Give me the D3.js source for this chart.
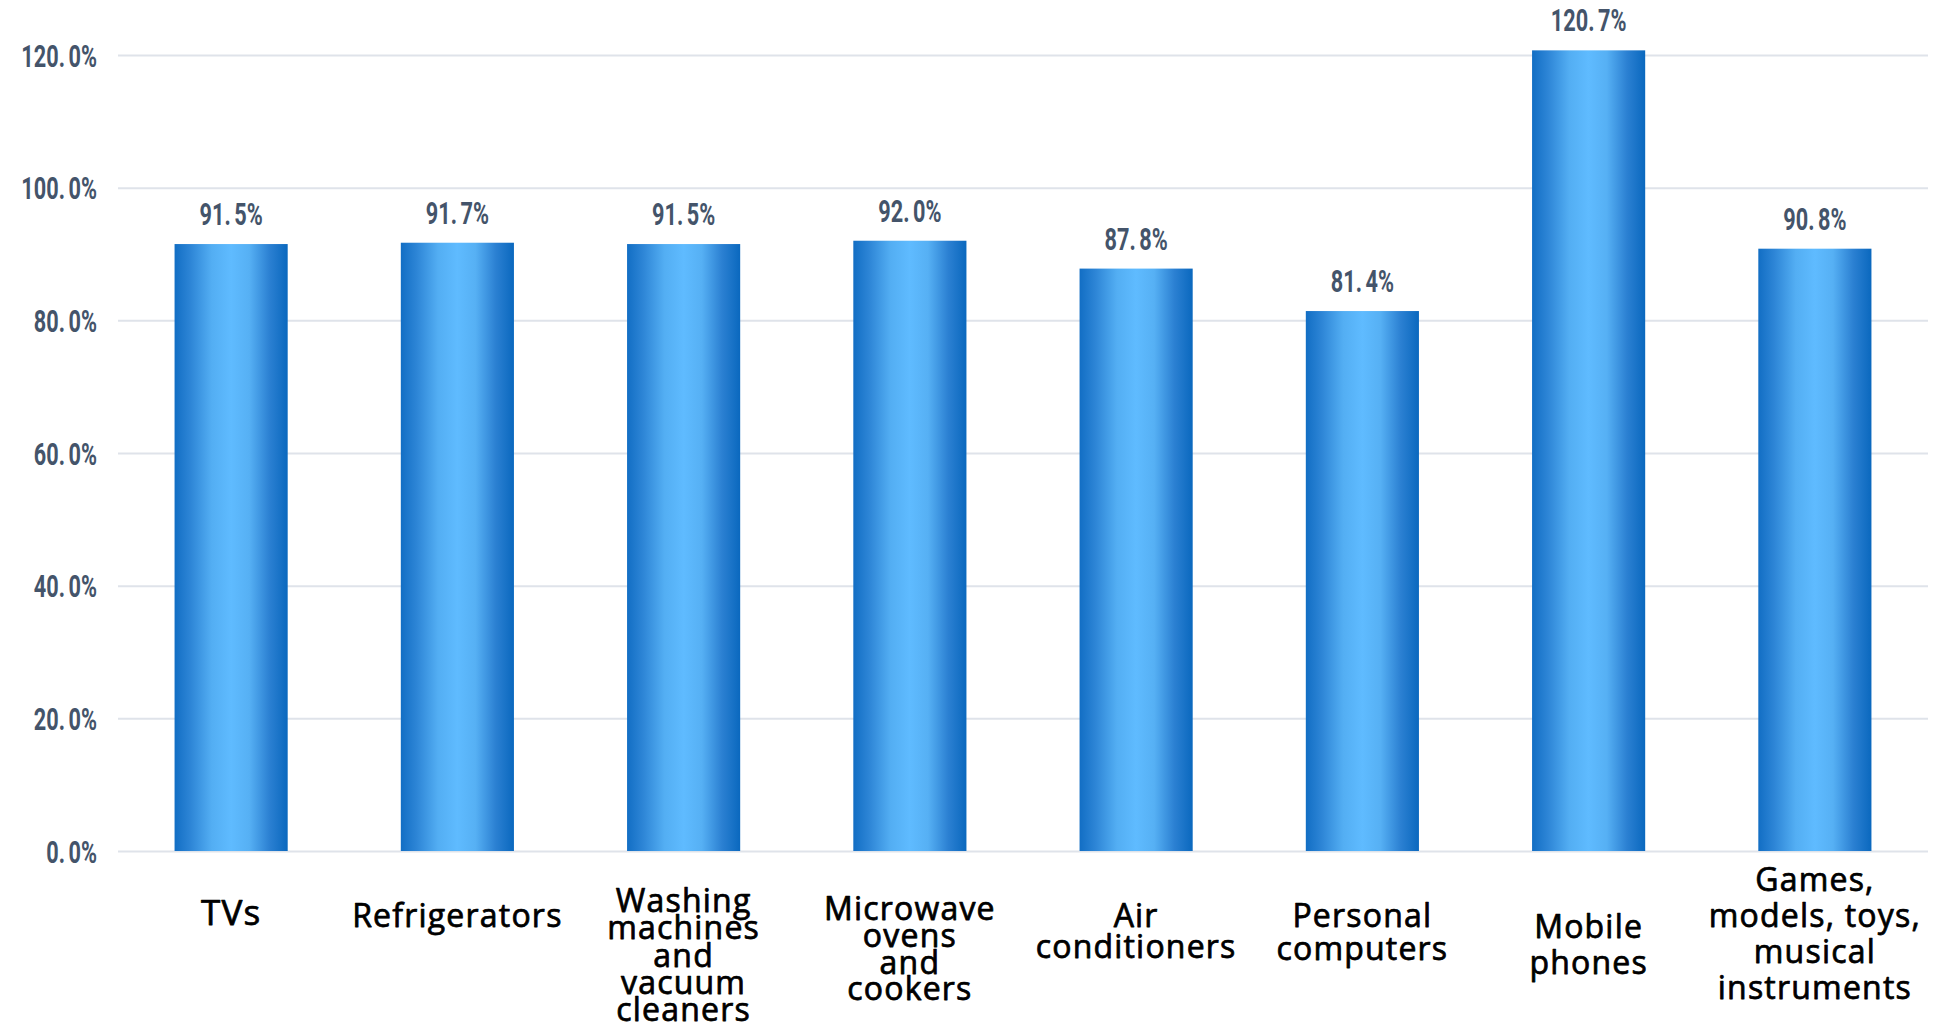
<!DOCTYPE html>
<html>
<head>
<meta charset="utf-8">
<script src="https://cdn.jsdelivr.net/npm/d3@7"></script>
<style>
  html, body { margin: 0; padding: 0; background: #ffffff; }
  svg { display: block; }
</style>
</head>
<body>
<svg id="chart" width="1952" height="1024"></svg>
<script>
// Category names, wrapped onto the lines they are printed on
const categories = [
  "TVs", "Refrigerators", "Washing machines and vacuum cleaners",
  "Microwave ovens and cookers", "Air conditioners", "Personal computers",
  "Mobile phones", "Games, models, toys, musical instruments"
];
const categoryLines = [
  ["TVs"],
  ["Refrigerators"],
  ["Washing", "machines", "and", "vacuum", "cleaners"],
  ["Microwave", "ovens", "and", "cookers"],
  ["Air", "conditioners"],
  ["Personal", "computers"],
  ["Mobile", "phones"],
  ["Games,", "models, toys,", "musical", "instruments"]
];
// Ratio, in percent
const values = [91.5, 91.7, 91.5, 92.0, 87.8, 81.4, 120.7, 90.8];
const yTicks = [0, 20, 40, 60, 80, 100, 120];

// Typesetting of the category labels: font size, line gap, first baseline below the axis
const labelType = {
  "TVs": { size: 35, gap: 0, first: 74 },
  "Refrigerators": { size: 32, gap: 0, first: 76 },
  "Washing machines and vacuum cleaners": { size: 32, gap: 27.3, first: 61 },
  "Microwave ovens and cookers": { size: 32, gap: 26.8, first: 69 },
  "Air conditioners": { size: 32, gap: 30.5, first: 76 },
  "Personal computers": { size: 32, gap: 32.5, first: 76 },
  "Mobile phones": { size: 32, gap: 35.5, first: 87 },
  "Games, models, toys, musical instruments": { size: 32, gap: 36, first: 40 }
};

const svg = d3.select("#chart");
const plotLeft = 118, plotRight = 1928, plotTop = 55, plotBottom = 851;

const x = d3.scaleBand().domain(categories).range([plotLeft, plotRight])
  .paddingInner(0.5).paddingOuter(0.25);
const y = d3.scaleLinear().domain([0, 120]).range([plotBottom, plotTop]);

// Bar fill: dark blue edges, light blue centre
const defs = svg.append("defs");
const grad = defs.append("linearGradient").attr("id", "barFill")
  .attr("x1", "0%").attr("x2", "100%").attr("y1", "0%").attr("y2", "0%");
[[0, "#126ec4"], [0.14, "#2d85d6"], [0.33, "#53aef3"], [0.5, "#5fbbff"],
 [0.66, "#56b0f4"], [0.84, "#2b80d2"], [1, "#0a68be"]]
  .forEach(([o, c]) => grad.append("stop").attr("offset", o).attr("stop-color", c));

// Numbers use a narrowed Roboto
const numFont = "Roboto, 'Liberation Sans', sans-serif";
const numSize = 31, numSqueeze = 0.7, numColor = "#44546a";

function writeNumber(sel, s) {
  const dot = s.indexOf(".");
  sel.append("tspan").text(s.slice(0, dot + 1));
  sel.append("tspan").attr("dx", 5).text(s.slice(dot + 1));
}

// Gridlines and y tick labels
const yAxis = d3.axisLeft(y).tickValues(yTicks)
  .tickSize(-(plotRight - plotLeft)).tickPadding(21)
  .tickFormat(d => d3.format(".1f")(d) + "%");
const gy = svg.append("g").attr("transform", `translate(${plotLeft},0)`).call(yAxis);
gy.select(".domain").remove();
gy.selectAll(".tick line").attr("stroke", "#dfe3ea").attr("stroke-width", 2);
gy.selectAll(".tick text")
  .attr("x", 0).attr("dy", "0.36em")
  .attr("transform", `translate(-21,0) scale(${numSqueeze},1)`)
  .attr("font-family", numFont).attr("font-size", numSize).attr("font-weight", "bold")
  .attr("fill", numColor)
  .text(null)
  .each(function(d) { writeNumber(d3.select(this), d3.format(".1f")(d) + "%"); });

// Bars
svg.append("g").selectAll("rect").data(values).join("rect")
  .attr("x", (d, i) => x(categories[i]))
  .attr("y", d => y(d))
  .attr("width", x.bandwidth())
  .attr("height", d => y(0) - y(d))
  .attr("fill", "url(#barFill)");

// Value labels above the bars
svg.append("g").selectAll("text").data(values).join("text")
  .attr("transform", (d, i) =>
    `translate(${x(categories[i]) + x.bandwidth() / 2},${y(d) - 19}) scale(${numSqueeze},1)`)
  .attr("text-anchor", "middle")
  .attr("font-family", numFont).attr("font-size", numSize).attr("font-weight", "bold")
  .attr("fill", numColor)
  .each(function(d) { writeNumber(d3.select(this), d3.format(".1f")(d) + "%"); });

// Category labels under the axis (regular face, thickened to a medium weight)
const gx = svg.append("g");
categories.forEach((c, i) => {
  const st = labelType[c];
  const cx = x(c) + x.bandwidth() / 2;
  const t = gx.append("text")
    .attr("x", cx)
    .attr("y", plotBottom + st.first)
    .attr("text-anchor", "middle")
    .attr("font-family", "'Open Sans', 'Noto Sans', sans-serif")
    .attr("font-size", st.size).attr("font-weight", 400)
    .attr("letter-spacing", 1.2)
    .attr("fill", "#000000")
    .attr("stroke", "#000000").attr("stroke-width", 0.75)
    .attr("stroke-linejoin", "round");
  categoryLines[i].forEach((line, k) => {
    t.append("tspan")
      .attr("x", cx)
      .attr("dy", k === 0 ? 0 : st.gap)
      .text(line);
  });
});
</script>
</body>
</html>
